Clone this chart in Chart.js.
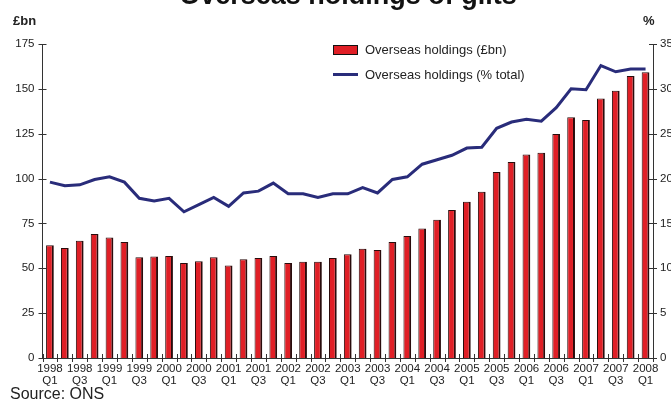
<!DOCTYPE html>
<html>
<head>
<meta charset="utf-8">
<script src="https://cdn.jsdelivr.net/npm/chart.js@4/dist/chart.umd.min.js"></script>
<style>
  html, body { margin: 0; padding: 0; background: #fff; overflow: hidden; }
  body { width: 671px; height: 401px; position: relative; font-family: "Liberation Sans", Arial, sans-serif; color: #222; }
  #wrap { position: absolute; left: 0; top: 0; width: 671px; height: 401px; }
  .abs { position: absolute; white-space: nowrap; }
  #title { left: 0; width: 696px; text-align: center; top: -19px; font-size: 27px; font-weight: bold; line-height: 28px; color: #111; }
  .unit { font-size: 13px; font-weight: bold; top: 13px; }
  #source { left: 10px; top: 385px; font-size: 16px; }
  .leg { font-size: 13px; line-height: 15px; left: 365px; }
  .swatch { position: absolute; left: 333px; }
</style>
</head>
<body>
<div id="wrap"><canvas id="c" width="671" height="401"></canvas></div>
<div class="abs" id="title">Overseas holdings of gilts</div>
<div class="abs unit" style="left:13px">£bn</div>
<div class="abs unit" style="left:643px">%</div>
<div class="swatch" style="top:45px;width:23px;height:8px;background:#e01f26;border:1px solid #111;"></div>
<div class="abs leg" style="top:42px">Overseas holdings (£bn)</div>
<div class="swatch" style="top:73px;width:25px;height:3px;background:#292c7a;"></div>
<div class="abs leg" style="top:67px">Overseas holdings (% total)</div>
<div class="abs" id="source">Source: ONS</div>
<script>
// quarters 1998 Q1 .. 2008 Q1
const quarters = [
  '1998 Q1','1998 Q2','1998 Q3','1998 Q4',
  '1999 Q1','1999 Q2','1999 Q3','1999 Q4',
  '2000 Q1','2000 Q2','2000 Q3','2000 Q4',
  '2001 Q1','2001 Q2','2001 Q3','2001 Q4',
  '2002 Q1','2002 Q2','2002 Q3','2002 Q4',
  '2003 Q1','2003 Q2','2003 Q3','2003 Q4',
  '2004 Q1','2004 Q2','2004 Q3','2004 Q4',
  '2005 Q1','2005 Q2','2005 Q3','2005 Q4',
  '2006 Q1','2006 Q2','2006 Q3','2006 Q4',
  '2007 Q1','2007 Q2','2007 Q3','2007 Q4',
  '2008 Q1'
];

// £bn, left axis
const holdingsBn = [
  62.8, 61.3, 65.4, 69.1,
  67.2, 64.7, 56.1, 56.5,
  56.9, 53.0, 53.9, 56.1,
  51.6, 55.0, 55.8, 56.9,
  53.0, 53.7, 53.7, 55.8,
  57.8, 60.9, 60.2, 64.7,
  68.0, 72.2, 77.1, 82.5,
  87.1, 92.7, 103.6, 109.2,
  113.4, 114.4, 124.8, 134.2,
  132.6, 144.6, 148.9, 157.2,
  159.3
];

// % of total, right axis
const holdingsPct = [
  19.6, 19.2, 19.3, 19.9,
  20.2, 19.6, 17.8, 17.5,
  17.8, 16.3, 17.1, 17.9,
  16.9, 18.4, 18.6, 19.5,
  18.3, 18.3, 17.9, 18.3,
  18.3, 19.0, 18.4, 19.9,
  20.2, 21.6, 22.1, 22.6,
  23.4, 23.5, 25.6, 26.3,
  26.6, 26.4, 27.9, 30.0,
  29.9, 32.6, 31.9, 32.2,
  32.2
];

const leftTicks = [0, 25, 50, 75, 100, 125, 150, 175];
const rightTicks = [0, 5, 10, 15, 20, 25, 30, 35];

// tick marks that cross the axis lines
const crossTicks = {
  id: 'crossTicks',
  afterDatasetsDraw(chart) {
    const { ctx, chartArea } = chart;
    const x = chart.scales.x, yl = chart.scales.y, yr = chart.scales.y1;
    ctx.save();
    ctx.strokeStyle = '#333';
    ctx.lineWidth = 1;
    ctx.beginPath();
    leftTicks.forEach(v => {
      const py = Math.round(yl.getPixelForValue(v)) + 0.5;
      ctx.moveTo(chartArea.left - 4, py); ctx.lineTo(chartArea.left + 4, py);
    });
    rightTicks.forEach(v => {
      const py = Math.round(yr.getPixelForValue(v)) + 0.5;
      ctx.moveTo(chartArea.right - 4, py); ctx.lineTo(chartArea.right + 4, py);
    });
    const step = x.getPixelForValue(1) - x.getPixelForValue(0);
    for (let i = 0; i <= quarters.length; i++) {
      const px = Math.round(x.getPixelForValue(i) - step / 2) + 0.5;
      ctx.moveTo(px, chartArea.bottom - 4); ctx.lineTo(px, chartArea.bottom + 4);
    }
    ctx.stroke();
    ctx.restore();
  }
};

const tickFont = { family: '"Liberation Sans", Arial, sans-serif', size: 11.5, lineHeight: 1.12 };

new Chart(document.getElementById('c'), {
  type: 'bar',
  data: {
    labels: quarters,
    datasets: [
      {
        type: 'line',
        label: 'Overseas holdings (% total)',
        data: holdingsPct,
        yAxisID: 'y1',
        borderColor: '#292c7a',
        borderWidth: 3,
        pointRadius: 0,
        tension: 0,
        order: 0
      },
      {
        label: 'Overseas holdings (£bn)',
        data: holdingsBn,
        yAxisID: 'y',
        backgroundColor: '#e01f26',
        borderColor: '#2a0c0c',
        borderWidth: { top: 1, left: 1, right: 2, bottom: 0 },
        borderSkipped: false,
        categoryPercentage: 1,
        barPercentage: 0.52,
        order: 1
      }
    ]
  },
  options: {
    responsive: false,
    animation: false,
    layout: { padding: { top: 44, left: 0, right: 0, bottom: 0 } },
    plugins: {
      legend: { display: false },
      title: { display: false },
      tooltip: { enabled: false }
    },
    scales: {
      x: {
        offset: true,
        grid: { display: false, tickLength: 0 },
        border: { display: true, color: '#333' },
        ticks: {
          autoSkip: false,
          maxRotation: 0,
          minRotation: 0,
          padding: 4,
          color: '#222',
          font: tickFont,
          callback: (v, i) => i % 2 === 0 ? quarters[i].split(' ') : ''
        },
        afterFit: s => { s.height = 43; }
      },
      y: {
        position: 'left',
        min: 0,
        max: 175,
        afterBuildTicks: s => { s.ticks = leftTicks.map(v => ({ value: v })); },
        grid: { display: false, tickLength: 0 },
        border: { display: true, color: '#333' },
        ticks: { padding: 8, color: '#222', font: tickFont },
        afterFit: s => { s.width = 42.5; }
      },
      y1: {
        position: 'right',
        min: 0,
        max: 35,
        afterBuildTicks: s => { s.ticks = rightTicks.map(v => ({ value: v })); },
        grid: { display: false, tickLength: 0 },
        border: { display: true, color: '#333' },
        ticks: { padding: 7, color: '#222', font: tickFont },
        afterFit: s => { s.width = 18; }
      }
    }
  },
  plugins: [crossTicks]
});
</script>
</body>
</html>
